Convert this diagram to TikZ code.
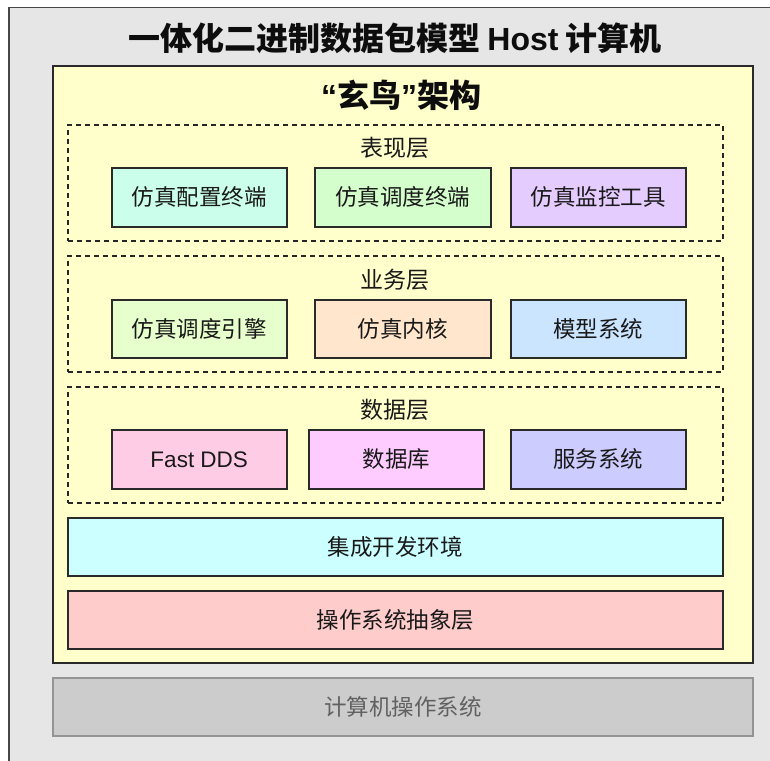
\documentclass[tikz,border=0pt]{standalone}
\usepackage{fontspec}
\setmainfont{Noto Sans CJK SC}
\newfontfamily\lat{Liberation Sans}
\definecolor{outerfill}{HTML}{E6E6E6}
\definecolor{yel}{HTML}{FFFFCC}
\definecolor{cA}{HTML}{CCFFEB}
\definecolor{cB}{HTML}{D4FFCC}
\definecolor{cC}{HTML}{E5CCFF}
\definecolor{cD}{HTML}{E6FFCC}
\definecolor{cE}{HTML}{FFE6CC}
\definecolor{cF}{HTML}{CCE5FF}
\definecolor{cG}{HTML}{FFCCE6}
\definecolor{cH}{HTML}{FFCCFF}
\definecolor{cI}{HTML}{CCCCFF}
\definecolor{cJ}{HTML}{CCFFFF}
\definecolor{cK}{HTML}{FFCCCC}
\definecolor{osfill}{HTML}{CCCCCC}
\definecolor{edge}{HTML}{2A2A2A}
\tikzset{
  unitbox/.style={draw=edge, line width=1.5pt, rectangle, inner sep=0pt, anchor=north west,
    font=\fontsize{22.5pt}{25pt}\selectfont, text=black!90},
  layerbox/.style={draw=black!85, line width=1.5pt, dash pattern=on 5pt off 4pt, rectangle,
    inner sep=0pt, anchor=north west},
  layerlabel/.style={font=\fontsize{23pt}{26pt}\selectfont, text=black!90, inner sep=0pt},
  titletext/.style={font=\fontsize{32pt}{36pt}\selectfont\bfseries, text=black!95, inner sep=0pt}
}
\begin{document}
\begin{tikzpicture}[x=1pt,y=-1pt]
\useasboundingbox (0,0) rectangle (770,760);
\clip (0,0) rectangle (770,760);
\fill[white] (0,0) rectangle (770,760);
% outer host box
\node[draw=black!72, fill=outerfill, line width=1.5pt, rectangle, inner sep=0pt, anchor=north west,
  minimum width=800, minimum height=800] (host) at (8,7) {};
\node[titletext] (title) at (395,38) {一体化二进制数据包模型 {\lat Host} 计算机};
% yellow architecture box
\node[draw=edge, fill=yel, line width=1.5pt, rectangle, inner sep=0pt, anchor=north west,
  minimum width=700, minimum height=597] (arch) at (52,65) {};
\node[titletext] (archtitle) at (401,95) {{\lat “}玄鸟{\lat ”}架构};
% layer 1
\node[layerbox, minimum width=655, minimum height=116] (l1) at (67,124) {};
\node[layerlabel] (l1t) at (395,148) {表现层};
\node[unitbox, fill=cA, minimum width=175, minimum height=59] (a1) at (111,167) {仿真配置终端};
\node[unitbox, fill=cB, minimum width=176, minimum height=59] (a2) at (314,167) {仿真调度终端};
\node[unitbox, fill=cC, minimum width=175, minimum height=59] (a3) at (510,167) {仿真监控工具};
% layer 2
\node[layerbox, minimum width=655, minimum height=116] (l2) at (67,255) {};
\node[layerlabel] (l2t) at (395,280) {业务层};
\node[unitbox, fill=cD, minimum width=175, minimum height=58] (b1) at (111,299) {仿真调度引擎};
\node[unitbox, fill=cE, minimum width=176, minimum height=58] (b2) at (314,299) {仿真内核};
\node[unitbox, fill=cF, minimum width=175, minimum height=58] (b3) at (510,299) {模型系统};
% layer 3
\node[layerbox, minimum width=655, minimum height=116] (l3) at (67,386) {};
\node[layerlabel] (l3t) at (395,410) {数据层};
\node[unitbox, fill=cG, minimum width=175, minimum height=59, font=\lat\fontsize{22.5pt}{25pt}\selectfont] (c1) at (111,429) {Fast DDS};
\node[unitbox, fill=cH, minimum width=175, minimum height=59] (c2) at (308,429) {数据库};
\node[unitbox, fill=cI, minimum width=175, minimum height=59] (c3) at (510,429) {服务系统};
% full-width layers
\node[unitbox, fill=cJ, minimum width=655, minimum height=58] (ide) at (67,517) {集成开发环境};
\node[unitbox, fill=cK, minimum width=655, minimum height=58] (osal) at (67,590) {操作系统抽象层};
% computer OS
\node[unitbox, draw=black!42, fill=osfill, text=black!62, minimum width=700, minimum height=58] (os) at (52,677) {计算机操作系统};
\end{tikzpicture}
\end{document}
